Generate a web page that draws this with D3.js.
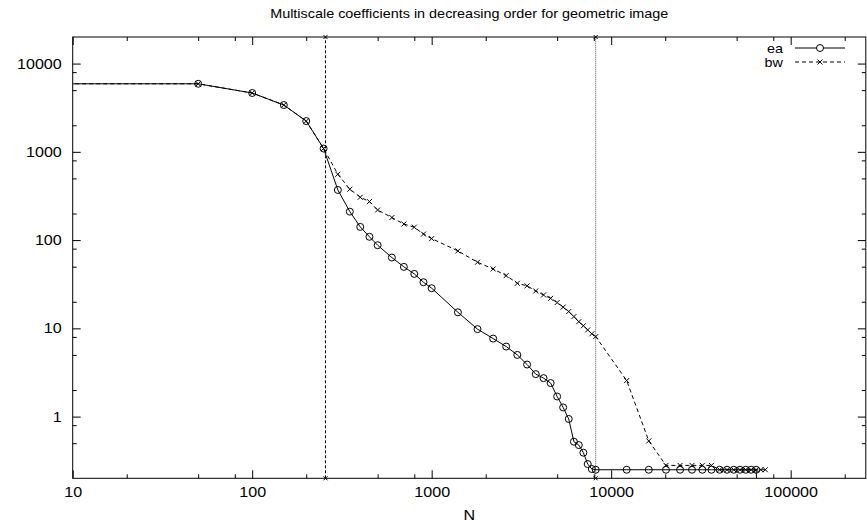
<!DOCTYPE html>
<html>
<head>
<meta charset="utf-8">
<script src="https://cdn.jsdelivr.net/npm/d3@7"></script>
<style>
  body { margin: 0; background: #fff; }
  svg { display: block; }
</style>
</head>
<body>
<svg id="chart" width="867" height="525"></svg>
<script>
// dati
const titleText = "Multiscale coefficients in decreasing order for geometric image";
const xLabelText = "N";

const eaN = [1, 50, 100, 150, 200, 250, 300, 350, 400, 450, 500, 600, 700, 800, 900, 1000,
  1400, 1800, 2200, 2600, 3000, 3400, 3800, 4200, 4600, 5000, 5400, 5800, 6200, 6600, 7000,
  7400, 7800, 8200, 12200, 16200, 20200, 24200, 28200, 32200, 36200, 40200, 44200, 48200,
  52200, 56200, 60200, 64200, 65536];
const eaValues = [5900, 5900, 4640, 3390, 2230, 1090, 370, 210, 141, 109, 87.5, 63.4, 49.7, 41.4, 33.3, 28.5,
  15.2, 9.8, 7.66, 6.22, 5.0, 3.89, 3.03, 2.73, 2.4, 1.69, 1.27, 0.94, 0.52, 0.476, 0.39,
  0.29, 0.255, 0.25, 0.25, 0.25, 0.25, 0.25, 0.25, 0.25, 0.25, 0.25, 0.25, 0.25,
  0.25, 0.25, 0.25, 0.25, 0.1];

const bwN = [1, 50, 100, 150, 200, 250, 300, 350, 400, 450, 500, 600, 700, 800, 900, 1000,
  1400, 1800, 2200, 2600, 3000, 3400, 3800, 4200, 4600, 5000, 5400, 5800, 6200, 6600, 7000,
  7400, 7800, 8200, 12200, 16200, 20200, 24200, 28200, 32200, 36200, 40200, 44200, 48200,
  52200, 56200, 60200, 64200, 68200, 72200];
const bwValues = [5900, 5900, 4640, 3390, 2230, 1090, 557, 377, 306, 273, 219, 180, 152, 140, 117, 104,
  75.4, 56.1, 47.1, 39.6, 32.4, 30.3, 26.5, 23.9, 21.9, 19.6, 17.4, 15.5, 13.6, 11.9, 10.7,
  9.6, 8.67, 8.07, 2.56, 0.53, 0.28, 0.28, 0.28, 0.28, 0.28, 0.25, 0.25, 0.25,
  0.25, 0.25, 0.25, 0.25, 0.25, 0.25];

// linee verticali di riferimento
const markerN = [256, 8192];

const xMajorTicks = [10, 100, 1000, 10000, 100000];
const yMajorTicks = [1, 10, 100, 1000, 10000];
const minorFactors = [2, 5, 8];

const xDomain = [10, 262144];
const yDomain = [0.2, 20000];

const svg = d3.select("#chart");
const plotLeft = 72.7, plotRight = 865.8, plotTop = 37, plotBottom = 478.3;
const font = "'Liberation Sans', Arial, Helvetica, sans-serif";
const stretch = 1.15; // il font dell'originale e' un po' allargato

const xScale = d3.scaleLog().domain(xDomain).range([plotLeft, plotRight]);
const yScale = d3.scaleLog().domain(yDomain).range([plotBottom, plotTop]);

// tick minori a 2, 5, 8 per ogni decade
function minorTicks(domain) {
  let res = [];
  for (let p = -3; p <= 6; p++) {
    minorFactors.forEach(f => {
      const v = f * Math.pow(10, p);
      if (v > domain[0] && v < domain[1]) res.push(v);
    });
  }
  return res;
}
const xMinor = minorTicks(xDomain);
const yMinor = minorTicks(yDomain);

// testo centrato in (x, y) e allargato orizzontalmente
function addText(x, y, txt, size, anchor, sx) {
  return svg.append("text")
    .attr("transform", "translate(" + x + "," + y + ") scale(" + sx + ",1)")
    .attr("text-anchor", anchor)
    .style("font-family", font)
    .style("font-size", size + "px")
    .attr("fill", "#000")
    .text(txt);
}

svg.append("defs").append("clipPath").attr("id", "plotClip")
  .append("rect")
  .attr("x", plotLeft).attr("y", plotTop)
  .attr("width", plotRight - plotLeft).attr("height", plotBottom - plotTop);

// Titolo
addText((plotLeft + plotRight) / 2, 18, titleText, 12, "middle", 1.2);

// Assi: tick verso l'interno su tutti e quattro i lati
const axisStyle = g => {
  g.select(".domain").remove();
  g.selectAll("line").attr("stroke", "#000");
  g.selectAll("text")
    .style("font-family", font).style("font-size", "14px")
    .attr("fill", "#000")
    .attr("transform", "scale(" + stretch + ",1)");
};

svg.append("g")
  .attr("transform", "translate(0," + plotBottom + ")")
  .call(d3.axisBottom(xScale).tickValues(xMajorTicks).tickFormat(d3.format("d")).tickSizeInner(-8).tickPadding(9))
  .call(axisStyle);
svg.append("g")
  .attr("transform", "translate(0," + plotBottom + ")")
  .call(d3.axisBottom(xScale).tickValues(xMinor).tickFormat("").tickSizeInner(-4))
  .call(axisStyle);
svg.append("g")
  .attr("transform", "translate(0," + plotTop + ")")
  .call(d3.axisTop(xScale).tickValues(xMajorTicks).tickFormat("").tickSizeInner(-8))
  .call(axisStyle);
svg.append("g")
  .attr("transform", "translate(0," + plotTop + ")")
  .call(d3.axisTop(xScale).tickValues(xMinor).tickFormat("").tickSizeInner(-4))
  .call(axisStyle);

svg.append("g")
  .attr("transform", "translate(" + plotLeft + ",0)")
  .call(d3.axisLeft(yScale).tickValues(yMajorTicks).tickFormat(d3.format("d")).tickSizeInner(-8).tickPadding(9.5))
  .call(axisStyle);
svg.append("g")
  .attr("transform", "translate(" + plotLeft + ",0)")
  .call(d3.axisLeft(yScale).tickValues(yMinor).tickFormat("").tickSizeInner(-4))
  .call(axisStyle);
svg.append("g")
  .attr("transform", "translate(" + plotRight + ",0)")
  .call(d3.axisRight(yScale).tickValues(yMajorTicks).tickFormat("").tickSizeInner(-8))
  .call(axisStyle);
svg.append("g")
  .attr("transform", "translate(" + plotRight + ",0)")
  .call(d3.axisRight(yScale).tickValues(yMinor).tickFormat("").tickSizeInner(-4))
  .call(axisStyle);

// Bordo
svg.append("rect")
  .attr("x", plotLeft).attr("y", plotTop)
  .attr("width", plotRight - plotLeft).attr("height", plotBottom - plotTop)
  .attr("fill", "none").attr("stroke", "#000").attr("stroke-width", 1);

// Etichetta asse x
addText((plotLeft + plotRight) / 2, 520, xLabelText, 14, "middle", stretch);

const plot = svg.append("g").attr("clip-path", "url(#plotClip)");

function crossPath(cx, cy, s) {
  return "M" + (cx - s) + "," + (cy - s) + "L" + (cx + s) + "," + (cy + s) +
    "M" + (cx - s) + "," + (cy + s) + "L" + (cx + s) + "," + (cy - s);
}

// linee verticali a N=256 e N=8192
markerN.forEach((n, i) => {
  plot.append("line")
    .attr("x1", xScale(n)).attr("x2", xScale(n))
    .attr("y1", yScale(yDomain[0])).attr("y2", yScale(yDomain[1]))
    .attr("stroke", i == 0 ? "#000" : "#555")
    .attr("stroke-width", 1)
    .attr("stroke-dasharray", i == 0 ? "3,2" : "1,1");
  [yDomain[0], yDomain[1]].forEach(v => {
    svg.append("path")
      .attr("d", crossPath(xScale(n), yScale(v), 2))
      .attr("stroke", "#000").attr("stroke-width", 1);
  });
});

const eaData = eaN.map((n, i) => ({n: n, v: eaValues[i]}));
const bwData = bwN.map((n, i) => ({n: n, v: bwValues[i]}));

let line = d3.line()
  .x(d => xScale(d.n))
  .y(d => yScale(d.v));

// serie bw (tratteggiata, crocette)
plot.append("path")
  .datum(bwData)
  .attr("d", line)
  .attr("fill", "none")
  .attr("stroke", "#000")
  .attr("stroke-width", 1)
  .attr("stroke-dasharray", "4,3");

plot.selectAll(".bwPt")
  .data(bwData.filter(d => d.n >= xDomain[0] && d.v >= yDomain[0]))
  .enter()
  .append("path")
  .attr("class", "bwPt")
  .attr("d", d => crossPath(xScale(d.n), yScale(d.v), 2.5))
  .attr("stroke", "#000")
  .attr("stroke-width", 1);

// serie ea (continua, cerchi)
plot.append("path")
  .datum(eaData)
  .attr("d", line)
  .attr("fill", "none")
  .attr("stroke", "#000")
  .attr("stroke-width", 1);

plot.selectAll(".eaPt")
  .data(eaData.filter(d => d.n >= xDomain[0] && d.v >= yDomain[0]))
  .enter()
  .append("circle")
  .attr("class", "eaPt")
  .attr("cx", d => xScale(d.n))
  .attr("cy", d => yScale(d.v))
  .attr("r", 3.5)
  .attr("fill", "none")
  .attr("stroke", "#000")
  .attr("stroke-width", 1);

// Legenda
const legend = [
  {name: "ea", y: 48, dash: null, mark: "circle"},
  {name: "bw", y: 62, dash: "4,3", mark: "cross"}
];
legend.forEach(l => {
  addText(783, l.y + 4.5, l.name, 12, "end", 1.2);
  svg.append("line")
    .attr("x1", 795).attr("x2", 845)
    .attr("y1", l.y).attr("y2", l.y)
    .attr("stroke", "#000").attr("stroke-width", 1)
    .attr("stroke-dasharray", l.dash);
  if (l.mark == "circle")
    svg.append("circle").attr("cx", 820).attr("cy", l.y).attr("r", 3.5)
      .attr("fill", "#fff").attr("stroke", "#000");
  else
    svg.append("path").attr("d", crossPath(820, l.y, 2.5)).attr("stroke", "#000");
});
</script>
</body>
</html>
